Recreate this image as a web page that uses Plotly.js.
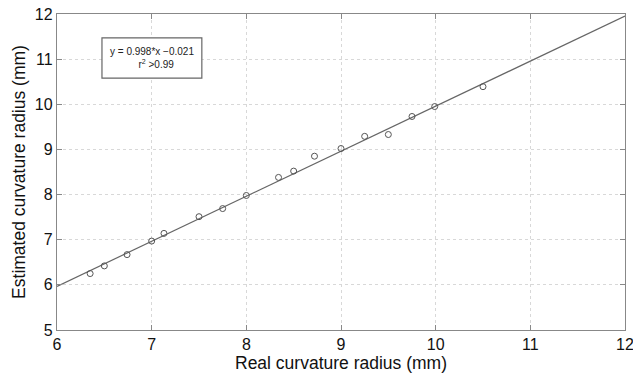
<!DOCTYPE html>
<html>
<head>
<meta charset="utf-8">
<script src="https://cdn.plot.ly/plotly-3.0.1.min.js"></script>
<style>html,body{margin:0;padding:0;background:#fff;}#chart{width:633px;height:374px;}</style>
</head>
<body>
<div id="chart"></div>
<script>
const realRadius = [6.35, 6.5, 6.74, 7.0, 7.13, 7.5, 7.75, 8.0, 8.34, 8.5, 8.72, 9.0, 9.25, 9.5, 9.75, 9.99, 10.5];
const estRadius  = [6.25, 6.42, 6.67, 6.97, 7.14, 7.51, 7.69, 7.98, 8.38, 8.52, 8.85, 9.02, 9.29, 9.33, 9.73, 9.95, 10.39];
const fitSlope = 0.998;
const fitIntercept = -0.021;
const fitX = [6, 12];
const fitY = fitX.map(x => fitSlope * x + fitIntercept);
const xTicks = [6, 7, 8, 9, 10, 11, 12];
const yTicks = [5, 6, 7, 8, 9, 10, 11, 12];

const font = "Liberation Sans, Arial, Helvetica, sans-serif";
const traces = [
  {x: fitX, y: fitY, mode: 'lines', line: {color: '#666', width: 1.2}, hoverinfo: 'skip'},
  {x: realRadius, y: estRadius, mode: 'markers',
   marker: {symbol: 'circle-open', size: 6, color: '#555', line: {width: 1, color: '#555'}}}
];
const axisCommon = {
  showline: true, mirror: 'ticks', linecolor: '#888', linewidth: 1.2,
  ticks: 'inside', ticklen: 5, tickcolor: '#888',
  showgrid: true, gridcolor: '#d8d8d8', griddash: 'dot', gridwidth: 1,
  zeroline: false, tickfont: {family: font, size: 16, color: '#111'},
  ticklabeloverflow: 'allow'
};
const layout = {
  width: 633, height: 374,
  margin: {l: 57, r: 8, t: 14, b: 44},
  paper_bgcolor: '#fff', plot_bgcolor: '#fff',
  showlegend: false,
  xaxis: Object.assign({}, axisCommon, {range: [6, 12], tickvals: xTicks, ticklabelstandoff: 0,
    title: {text: 'Real curvature radius (mm)', font: {family: font, size: 17.5, color: '#111'}, standoff: 0}}),
  yaxis: Object.assign({}, axisCommon, {range: [5, 12], tickvals: yTicks,
    title: {text: 'Estimated curvature radius (mm)', font: {family: font, size: 17.5, color: '#111'}, standoff: 4}}),
  shapes: [{type: 'rect', xref: 'x', yref: 'y', x0: 6.475, x1: 7.53, y0: 10.58, y1: 11.47,
    line: {color: '#666', width: 1.2}, fillcolor: '#fff'}],
  annotations: [{xref: 'x', yref: 'y', x: 7.0, y: 11.03, showarrow: false,
    text: 'y = 0.998*x \u22120.021<br>   r<sup>2</sup> >0.99', align: 'center',
    font: {family: font, size: 10, color: '#222'}}]
};
Plotly.newPlot('chart', traces, layout, {displayModeBar: false, staticPlot: true});
</script>
</body>
</html>
